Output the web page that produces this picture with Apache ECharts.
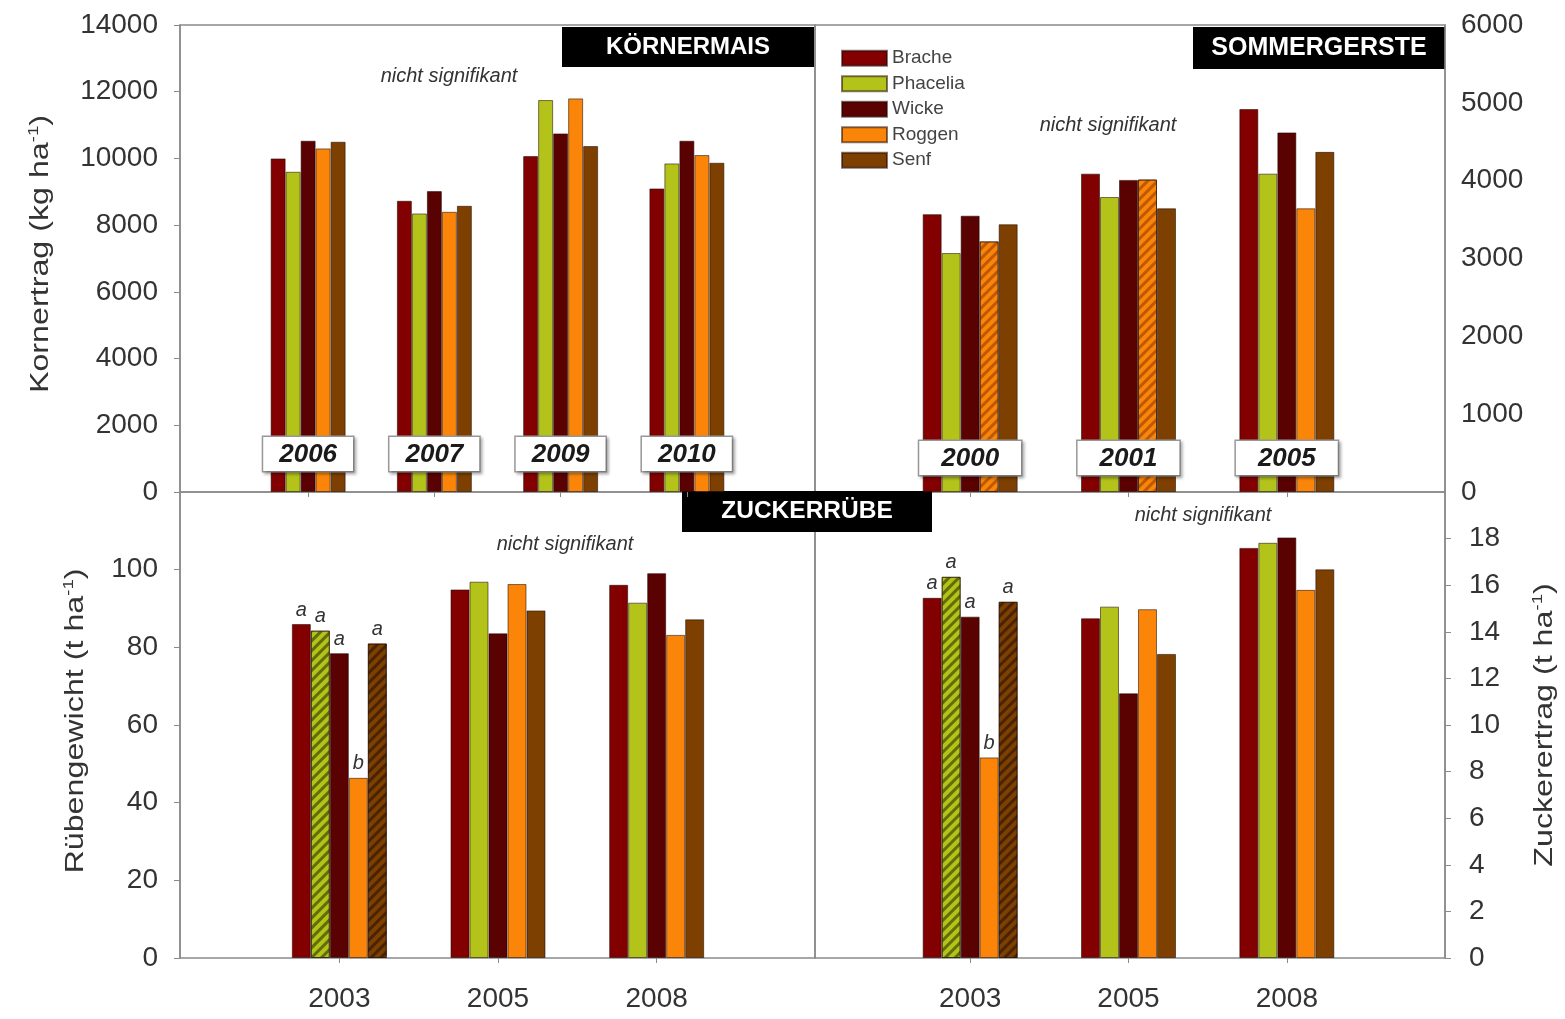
<!DOCTYPE html>
<html>
<head>
<meta charset="utf-8">
<script src="https://cdn.jsdelivr.net/npm/echarts@6/dist/echarts.min.js"></script>
<style>
html,body{margin:0;padding:0;background:#fff;}
#chart{width:1565px;height:1019px;}
</style>
</head>
<body>
<div id="chart"></div>
<script>
// ---------------- DATA ----------------
const seriesNames = ['Brache', 'Phacelia', 'Wicke', 'Roggen', 'Senf'];

// Körnermais (Kornertrag, kg/ha) - top left
const maisYears = ['2006', '2007', '2009', '2010'];
const maisBrache   = [10000, 8730, 10070, 9100];
const maisPhacelia = [9600, 8350, 11750, 9850];
const maisWicke    = [10530, 9020, 10750, 10530];
const maisRoggen   = [10300, 8400, 11800, 10100];
const maisSenf     = [10500, 8580, 10370, 9870];

// Sommergerste (Kornertrag, kg/ha) - top right
const gersteYears = ['2000', '2001', '2005'];
const gersteBrache   = [3570, 4090, 4920];
const gerstePhacelia = [3070, 3790, 4090];
const gersteWicke    = [3550, 4010, 4620];
const gersteRoggen   = [3220, 4015, 3645];
const gersteSenf     = [3440, 3645, 4370];

// Zuckerrübe Rübengewicht (t/ha) - bottom left
const rubeYears = ['2003', '2005', '2008'];
const rubeBrache   = [86.0, 94.9, 96.1];
const rubePhacelia = [84.3, 96.9, 91.5];
const rubeWicke    = [78.5, 83.6, 99.1];
const rubeRoggen   = [46.4, 96.3, 83.2];
const rubeSenf     = [81.0, 89.5, 87.2];

// Zuckerrübe Zuckerertrag (t/ha) - bottom right
const zuckerBrache   = [15.46, 14.58, 17.6];
const zuckerPhacelia = [16.36, 15.08, 17.82];
const zuckerWicke    = [14.65, 11.36, 18.05];
const zuckerRoggen   = [8.61, 14.97, 15.8];
const zuckerSenf     = [15.29, 13.05, 16.68];

// significance letters (first year group only) and hatched bars
const rubeLetters   = ['a', 'a', 'a', 'b', 'a'];
const zuckerLetters = ['a', 'a', 'a', 'b', 'a'];
const gersteHatched = {Roggen: [0, 1]};
const rubeHatched   = {Phacelia: [0], Senf: [0]};
const zuckerHatched = {Phacelia: [0], Senf: [0]};

// ticks
const maisTicks = {min: 0, max: 14000, interval: 2000};
const gersteTicks = {min: 0, max: 6000, interval: 1000};
const rubeTicks = {min: 0, max: 120, interval: 20};
const zuckerTicks = {min: 0, max: 20, interval: 2};

// ---------------- STYLE ----------------
const colors = {
  Brache: '#830000', Phacelia: '#b3c31a', Wicke: '#5a0101', Roggen: '#fb8508', Senf: '#7d4000'
};
const hatchColors = {
  Phacelia: 'rgba(70,80,0,0.75)', Senf: 'rgba(40,15,0,0.6)', Roggen: 'rgba(150,60,0,0.6)'
};
const FONT = '"Liberation Sans", Arial, sans-serif';
const TXT = '#333';
const FRAME = '#8a8a8a';

const W = 1565, H = 1019;
const frames = [
  {left: 180, right: W - 815, top: 25, bottom: H - 492},
  {left: 815, right: W - 1445, top: 25, bottom: H - 492},
  {left: 180, right: W - 815, top: 492, bottom: H - 958},
  {left: 815, right: W - 1445, top: 492, bottom: H - 958}
];
const barGrids = [
  {left: 245, width: 505, top: 25, bottom: H - 492},
  {left: 891, width: 475, top: 25, bottom: H - 492},
  {left: 260, width: 476, top: 492, bottom: H - 958},
  {left: 891, width: 475, top: 492, bottom: H - 958}
];

const grids = frames.map(f => Object.assign({show: true, borderColor: FRAME, borderWidth: 1.5, backgroundColor: 'transparent'}, f))
  .concat(barGrids.map(g => Object.assign({show: false}, g)));

const plainNum = v => String(v);

function frameY(idx, ticks, pos, extra) {
  return Object.assign({
    gridIndex: idx, type: 'value', position: pos,
    min: ticks.min, max: ticks.max, interval: ticks.interval,
    splitLine: {show: false},
    axisLine: {show: true, lineStyle: {color: FRAME, width: 1.5}},
    axisTick: {show: true, length: 6, lineStyle: {color: FRAME}},
    axisLabel: {fontSize: 28, fontFamily: FONT, color: TXT, margin: 22, formatter: plainNum}
  }, extra || {});
}
function hiddenY(idx, ticks) {
  return {gridIndex: idx, type: 'value', min: ticks.min, max: ticks.max, interval: ticks.interval, show: false};
}

const yearBoxLabel = (padH, margin) => ({
  inside: true, margin: margin, interval: 0,
  fontSize: 26, fontWeight: 'bold', fontStyle: 'italic', fontFamily: FONT, color: '#1a1a1a',
  backgroundColor: '#fff', borderColor: '#999', borderWidth: 1.5,
  padding: [5, padH, 3, padH],
  shadowColor: 'rgba(0,0,0,0.25)', shadowBlur: 3, shadowOffsetX: 2, shadowOffsetY: 2
});

const xAxes = [0, 1, 2, 3].map(i => ({gridIndex: i, type: 'category', data: ['x'], show: false}))
  .concat([
    {gridIndex: 4, type: 'category', data: maisYears, z: 10,
      axisLine: {show: false}, axisTick: {show: true, alignWithLabel: true, length: 5, lineStyle: {color: FRAME}},
      axisLabel: yearBoxLabel(16, 21)},
    {gridIndex: 5, type: 'category', data: gersteYears, z: 10,
      axisLine: {show: false}, axisTick: {show: true, alignWithLabel: true, length: 5, lineStyle: {color: FRAME}},
      axisLabel: yearBoxLabel(22, 17)},
    {gridIndex: 6, type: 'category', data: rubeYears,
      axisLine: {show: false}, axisTick: {show: true, alignWithLabel: true, length: 5, lineStyle: {color: FRAME}},
      axisLabel: {fontSize: 28, fontFamily: FONT, color: TXT, margin: 27}},
    {gridIndex: 7, type: 'category', data: rubeYears,
      axisLine: {show: false}, axisTick: {show: true, alignWithLabel: true, length: 5, lineStyle: {color: FRAME}},
      axisLabel: {fontSize: 28, fontFamily: FONT, color: TXT, margin: 27}}
  ]);

const yAxes = [
  frameY(0, maisTicks, 'left'),
  frameY(1, gersteTicks, 'right', {axisTick: {show: false},
    axisLabel: {fontSize: 28, fontFamily: FONT, color: TXT, margin: 16, formatter: plainNum}}),
  frameY(2, rubeTicks, 'left', {
    axisLabel: {fontSize: 28, fontFamily: FONT, color: TXT, margin: 22, showMaxLabel: false, formatter: plainNum}
  }),
  frameY(3, zuckerTicks, 'right', {
    axisLabel: {fontSize: 28, fontFamily: FONT, color: TXT, margin: 24, showMaxLabel: false, formatter: plainNum}
  }),
  hiddenY(4, maisTicks), hiddenY(5, gersteTicks), hiddenY(6, rubeTicks), hiddenY(7, zuckerTicks)
];

function decalFor(name) {
  return {
    symbol: 'rect', symbolSize: 1, dashArrayX: [1, 0], dashArrayY: [3, 4],
    rotation: -Math.PI / 4, color: hatchColors[name]
  };
}

function makeSeries(axisIdx, values, barWidth, hatched, letters) {
  return seriesNames.map((name, si) => ({
    name: name, type: 'bar', xAxisIndex: axisIdx, yAxisIndex: axisIdx,
    barWidth: barWidth, barGap: '0%',
    itemStyle: {color: colors[name], borderColor: 'rgba(30,10,0,0.55)', borderWidth: 1},
    data: values[si].map((v, di) => {
      const item = {value: v};
      if (hatched && hatched[name] && hatched[name].indexOf(di) >= 0) {
        item.itemStyle = {decal: decalFor(name)};
      }
      if (letters && di === 0) {
        item.label = {show: true, position: 'top', distance: 4, formatter: letters[si],
          fontSize: 20, fontStyle: 'italic', fontFamily: FONT, color: TXT};
      }
      return item;
    })
  }));
}

const series = [].concat(
  makeSeries(4, [maisBrache, maisPhacelia, maisWicke, maisRoggen, maisSenf], 15, null, null),
  makeSeries(5, [gersteBrache, gerstePhacelia, gersteWicke, gersteRoggen, gersteSenf], 19, gersteHatched, null),
  makeSeries(6, [rubeBrache, rubePhacelia, rubeWicke, rubeRoggen, rubeSenf], 19, rubeHatched, rubeLetters),
  makeSeries(7, [zuckerBrache, zuckerPhacelia, zuckerWicke, zuckerRoggen, zuckerSenf], 19, zuckerHatched, zuckerLetters)
);

function blackBox(x, y, w, h, text, fs) {
  return {
    type: 'group', z: 20,
    children: [
      {type: 'rect', shape: {x: x, y: y, width: w, height: h}, style: {fill: '#000'}},
      {type: 'text', x: x + w / 2, y: y + h / 2, style: {text: text, fill: '#fff',
        font: 'bold ' + fs + 'px ' + FONT, textAlign: 'center', textVerticalAlign: 'middle'}}
    ]
  };
}
function note(x, y) {
  return {type: 'text', x: x, y: y, z: 20, style: {text: 'nicht signifikant', fill: TXT,
    font: 'italic 20px ' + FONT, textAlign: 'center', textVerticalAlign: 'middle'}};
}
// rotated axis titles (stretched along their length like the original)
function axisTitle(cx, cy, main) {
  return {
    type: 'text', x: cx, y: cy, rotation: Math.PI / 2, scaleX: 1.24, z: 20,
    style: {
      text: main + ' (' + (main === 'Kornertrag' ? 'kg' : 't') + ' ha{sup|-1})',
      fill: TXT, font: '26px ' + FONT, textAlign: 'center', textVerticalAlign: 'middle',
      rich: {sup: {fontSize: 15, fontFamily: FONT, fill: TXT, verticalAlign: 'top', lineHeight: 30}}
    }
  };
}

const option = {
  animation: false,
  backgroundColor: '#fff',
  grid: grids,
  xAxis: xAxes,
  yAxis: yAxes,
  legend: {
    data: seriesNames, orient: 'vertical', left: 836, top: 43,
    icon: 'rect', itemWidth: 45, itemHeight: 15, itemGap: 5,
    textStyle: {fontSize: 19, fontFamily: FONT, color: '#444', lineHeight: 20.5}
  },
  series: series,
  graphic: [
    blackBox(562, 27, 252, 40, 'KÖRNERMAIS', 24),
    blackBox(1193, 27, 252, 42, 'SOMMERGERSTE', 25),
    blackBox(682, 491, 250, 41, 'ZUCKERRÜBE', 24.5),
    note(449, 76), note(1108, 125), note(565, 544), note(1203, 515),
    axisTitle(41, 254, 'Kornertrag'),
    axisTitle(76, 721, 'Rübengewicht'),
    axisTitle(1545, 725, 'Zuckerertrag')
  ]
};

const chart = echarts.init(document.getElementById('chart'));
chart.setOption(option);
</script>
</body>
</html>
